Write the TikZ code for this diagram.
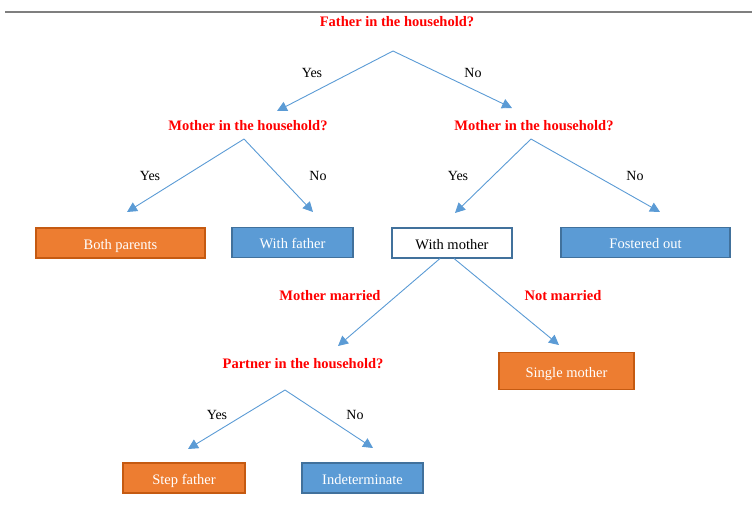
\documentclass[tikz,border=0pt]{standalone}
\usepackage{fontspec}
\setmainfont{Liberation Serif}
\usetikzlibrary{arrows.meta}
\definecolor{rq}{HTML}{FF0000}
\definecolor{orfill}{HTML}{ED7D31}
\definecolor{ordraw}{HTML}{C55A11}
\definecolor{blfill}{HTML}{5B9BD5}
\definecolor{bldraw}{HTML}{41719C}
\definecolor{lnc}{HTML}{5B9BD5}
\definecolor{rule}{HTML}{7F7F7F}
\tikzset{
  question/.style={text=rq, font=\fontsize{14.5}{16}\selectfont\bfseries, inner sep=0pt},
  answer/.style={text=black, font=\fontsize{14}{16}\selectfont, inner sep=0pt},
  boxbase/.style={line width=1.3pt, font=\fontsize{14.5}{16}\selectfont, inner sep=0pt, text height=12pt, text depth=0pt},
  obox/.style={boxbase, draw=ordraw, fill=orfill, text=white},
  bbox/.style={boxbase, draw=bldraw, fill=blfill, text=white},
  wbox/.style={boxbase, draw=bldraw, fill=white, text=black},
  arr/.style={draw=lnc, line width=0.9pt, -{Triangle[length=10pt, width=10pt, fill=lnc]}}
}
\begin{document}
\begin{tikzpicture}[x=1pt, y=-1pt]
\useasboundingbox (0,0) rectangle (752,504);
\draw[color=rule, line width=2.5pt] (5,12) -- (752,12);

% questions
\node[question] (q1) at (397,22) {Father in the household?};
\node[question] (q2) at (248,126) {Mother in the household?};
\node[question] (q3) at (534,126) {Mother in the household?};
\node[question] (q4) at (303,364) {Partner in the household?};
\node[question] (mm) at (330,296) {Mother married};
\node[question] (nm) at (563,296) {Not married};

% answers
\node[answer] (y1) at (312,73) {Yes};
\node[answer] (n1) at (473,73) {No};
\node[answer] (y2) at (150,176) {Yes};
\node[answer] (n2) at (318,176) {No};
\node[answer] (y3) at (458,176) {Yes};
\node[answer] (n3) at (635,176) {No};
\node[answer] (y4) at (217,415) {Yes};
\node[answer] (n4) at (355,415) {No};

% boxes
\node[obox, minimum width=169pt, minimum height=30pt] (bp) at (120.5,243) {Both parents};
\node[bbox, minimum width=121pt, minimum height=30pt] (wf) at (292.5,242.5) {With father};
\node[wbox, minimum width=120pt, minimum height=30pt] (wm) at (452,243) {With mother};
\node[bbox, minimum width=169pt, minimum height=30pt] (fo) at (645.5,242.5) {Fostered out};
\node[obox, minimum width=135pt, minimum height=37pt] (sm) at (566.5,371) {Single mother};
\node[obox, minimum width=122pt, minimum height=30pt] (sf) at (184,478) {Step father};
\node[bbox, minimum width=121pt, minimum height=30pt] (in) at (362.5,478) {Indeterminate};

% split points and arrow ends
\coordinate (a1) at (393,51);
\coordinate (t1l) at (277,111);
\coordinate (t1r) at (512,108);
\coordinate (a2) at (244,139);
\coordinate (t2l) at (127,212);
\coordinate (t2r) at (313,212);
\coordinate (a3) at (531,139);
\coordinate (t3l) at (455,213);
\coordinate (t3r) at (660,212);
\coordinate (a5l) at (440,258.5);
\coordinate (a5r) at (454,258.5);
\coordinate (t5l) at (338,346);
\coordinate (t5r) at (559,345);
\coordinate (a4) at (285,390);
\coordinate (t4l) at (188,449);
\coordinate (t4r) at (373,448);

\draw[arr] (a1) -- (t1l);
\draw[arr] (a1) -- (t1r);
\draw[arr] (a2) -- (t2l);
\draw[arr] (a2) -- (t2r);
\draw[arr] (a3) -- (t3l);
\draw[arr] (a3) -- (t3r);
\draw[arr] (a5l) -- (t5l);
\draw[arr] (a5r) -- (t5r);
\draw[arr] (a4) -- (t4l);
\draw[arr] (a4) -- (t4r);
\end{tikzpicture}
\end{document}
